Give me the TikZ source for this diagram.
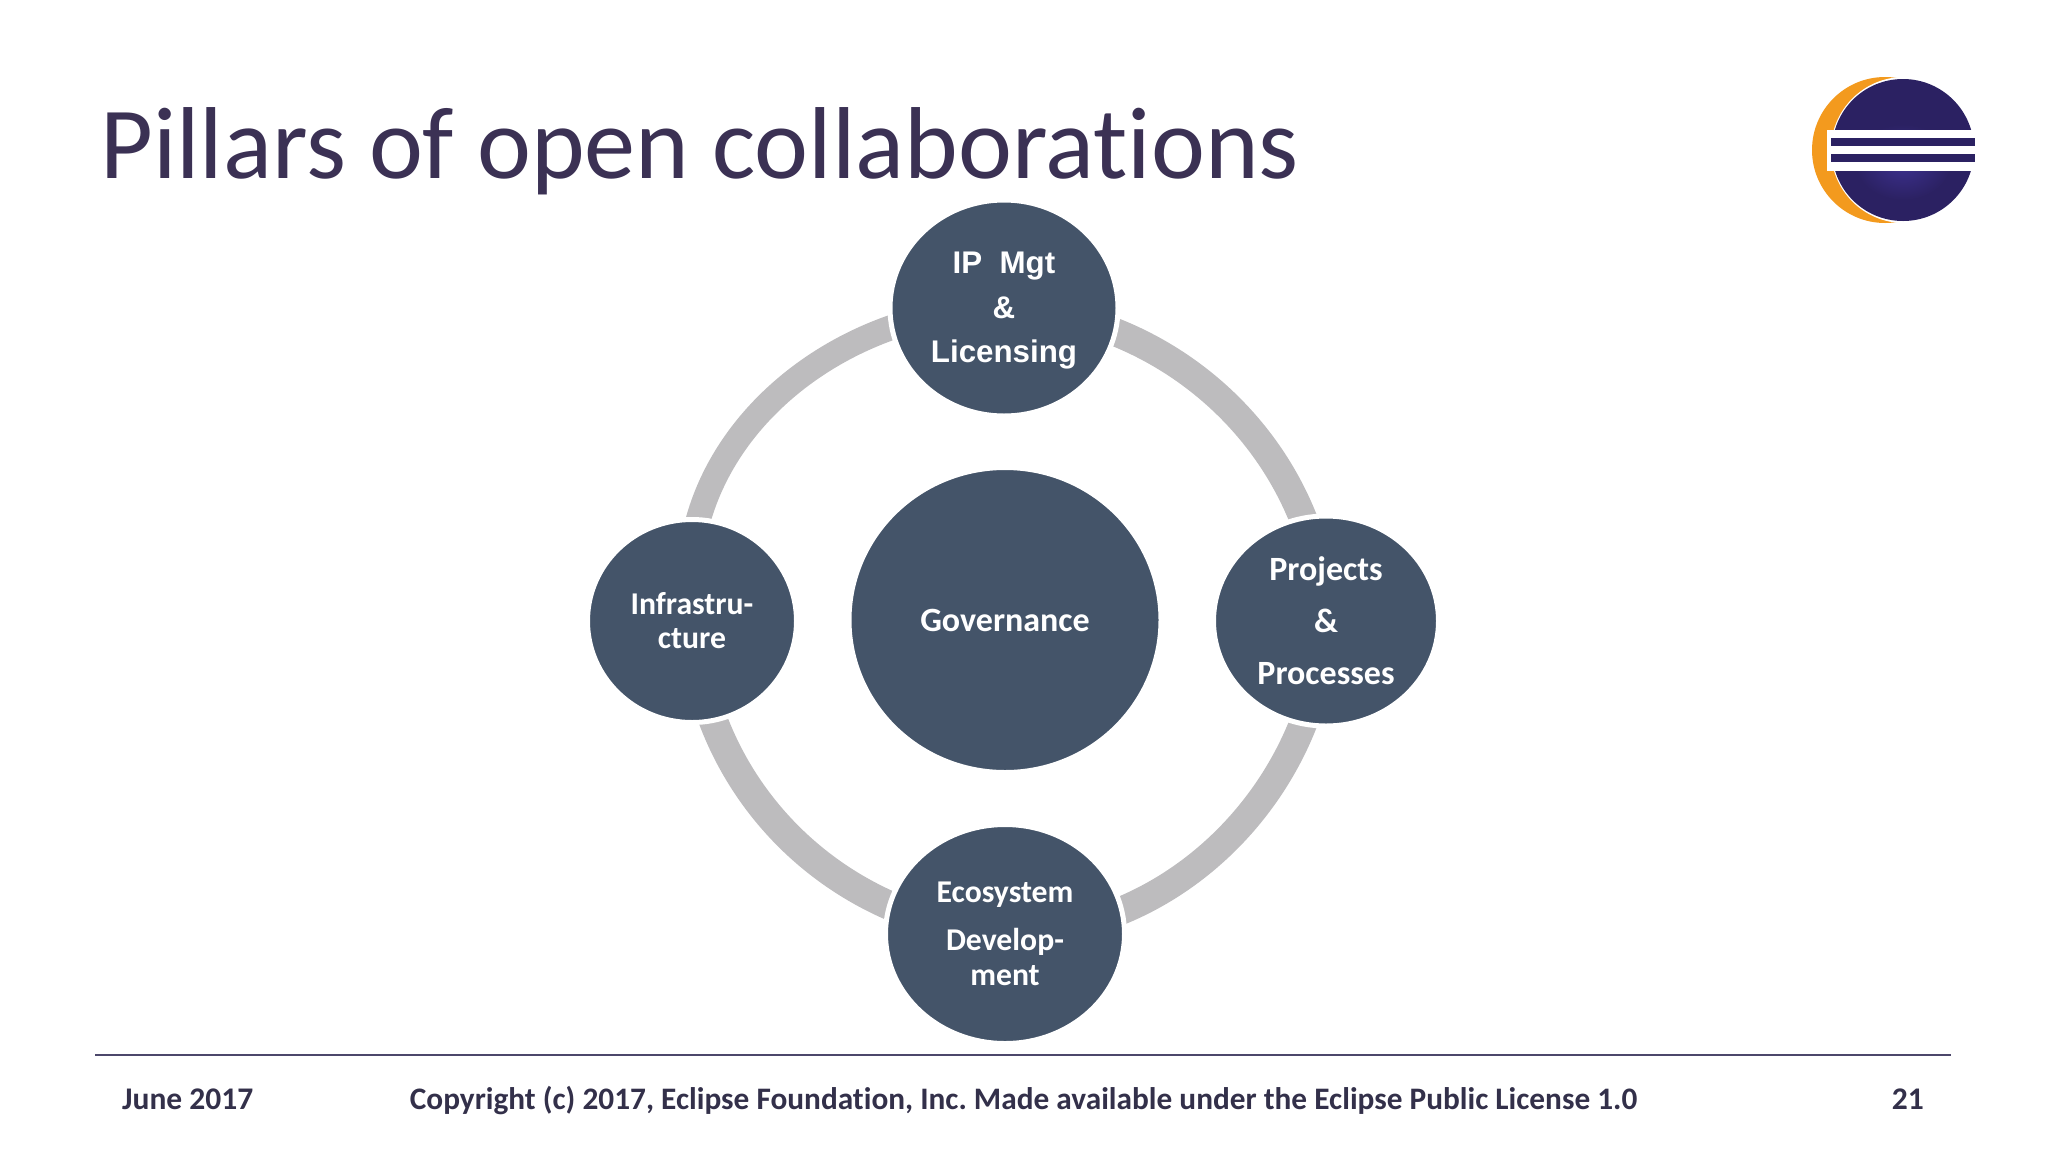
\documentclass[tikz,border=0pt]{standalone}
\usepackage{fontspec}
\setmainfont[Ligatures=NoCommon]{Carlito}
\newfontfamily\arialfont{Liberation Sans}
\usetikzlibrary{shapes.geometric,backgrounds}
\frenchspacing
\definecolor{nodeblue}{HTML}{445469}
\definecolor{ringgrey}{HTML}{BDBCBE}
\definecolor{titleink}{HTML}{3B3154}
\definecolor{ruleink}{HTML}{4C476B}
\definecolor{footink}{HTML}{33304A}
\definecolor{logodark}{HTML}{2B2162}
\definecolor{logomid}{HTML}{3D3190}
\definecolor{logoorange}{HTML}{F39A1E}
\tikzset{
  x=1pt,y=-1pt,
  pillar/.style={ellipse,fill=nodeblue,draw=white,line width=5pt,inner sep=0pt,outer sep=0pt,
    text=white,align=center,font=\fontsize{31.7}{35}\selectfont\bfseries},
  pillarbig/.style={pillar,font=\fontsize{34}{35}\selectfont\bfseries},
  ringarc/.style={draw=ringgrey,line cap=butt},
  foot/.style={inner sep=0pt,text=footink,font=\fontsize{31.5}{33}\selectfont\bfseries},
}
\begin{document}
\begin{tikzpicture}
\useasboundingbox (0,0) rectangle (2048,1152);
\node[anchor=base west,inner sep=0pt,text=titleink,font=\fontsize{102.2}{110}\selectfont] (title) at (100,178) {Pillars of open collaborations};
% logo
\fill[logoorange] (1885,150) circle (73);
\fill[white] (1904,150) circle (73);
\begin{scope}
\clip (1903,150) circle (71);
\fill[logodark] (1825,70) rectangle (1985,230);
\shade[inner color=logomid,outer color=logodark] (1903,162) ellipse (48 and 38);
\end{scope}
\fill[white] (1827,130) rectangle (1978,171);
\fill[logodark] (1831,138) rectangle (1975,146);
\fill[logodark] (1831,154) rectangle (1975,162);
% nodes
\node[pillar,font=\fontsize{31.3}{35}\selectfont\bfseries,minimum width=228pt,minimum height=216pt] (ip) at (1004,308)
  {\arialfont\bfseries\rule{0pt}{27pt}IP\ \ Mgt\\[9.5pt]\arialfont\bfseries \&\\[9.5pt]\arialfont\bfseries Licensing};
\node[pillarbig,minimum width=312pt,minimum height=305pt] (gov) at (1005,620) {Governance};
\node[pillar,minimum width=209pt,minimum height=203pt] (infra) at (692,621) {Infrastru-\\[-1pt]cture};
\node[pillarbig,minimum width=225pt,minimum height=210pt] (proj) at (1326,621) {Projects\\[17pt]\&\\[17pt]Processes};
\node[pillar,minimum width=239pt,minimum height=219pt] (eco) at (1005,934) {Ecosystem\\[13pt]Develop-\\ment};
\begin{scope}[on background layer]
\draw[ringarc,line width=25pt] (infra.center) .. controls (666,445) and (832,308) .. (ip.center);
\draw[ringarc,line width=28pt] (ip.center) .. controls (1175,316) and (1316,450) .. (proj.center);
\draw[ringarc,line width=28pt] (proj.center) .. controls (1316,790) and (1175,934) .. (eco.center);
\draw[ringarc,line width=29pt] (eco.center) .. controls (835,922) and (702,790) .. (infra.center);
\end{scope}
% footer
\coordinate (ruleL) at (95,1055);
\coordinate (ruleR) at (1951,1055);
\draw[ruleink,line width=2.5pt] (ruleL) -- (ruleR);
\node[foot,anchor=base west] (date) at (122,1109) {June 2017};
\node[foot,anchor=base,font=\fontsize{31.3}{33}\selectfont\bfseries] (copy) at (1023.5,1109) {Copyright (c) 2017, Eclipse Foundation, Inc. Made available under the Eclipse Public License 1.0};
\node[foot,anchor=base east] (page) at (1924,1109) {21};
\end{tikzpicture}
\end{document}
